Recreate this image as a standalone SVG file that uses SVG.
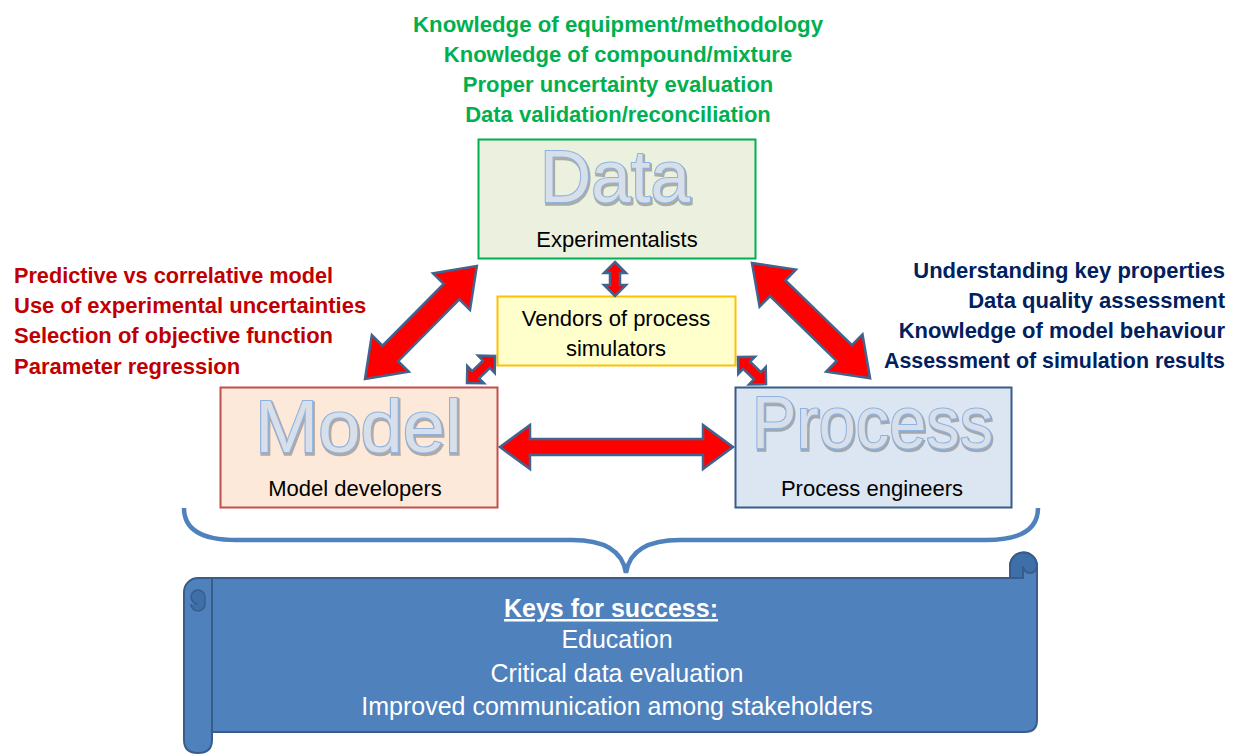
<svg xmlns="http://www.w3.org/2000/svg" width="1235" height="754" viewBox="0 0 1235 754">
<style>
.g{font-family:"Liberation Sans",Arial,sans-serif;font-weight:bold;font-size:22px;fill:#00B050;text-anchor:middle}
.r{font-family:"Liberation Sans",Arial,sans-serif;font-weight:bold;font-size:22px;fill:#C00000}
.n{font-family:"Liberation Sans",Arial,sans-serif;font-weight:bold;font-size:22px;fill:#002060;text-anchor:end}
.lbl{font-family:"Liberation Sans",Arial,sans-serif;font-size:22px;fill:#000;text-anchor:middle}
.big{font-family:"Liberation Sans",Arial,sans-serif;font-size:74px;fill:#D8DFE8;stroke:#8DB3E2;stroke-width:2.2;paint-order:stroke}
.sh{font-family:"Liberation Sans",Arial,sans-serif;font-size:74px;fill:none;stroke:#6b6b6b;stroke-width:3.5;opacity:0.5}
.arr{fill:#FF0000;stroke:#41648F;stroke-width:2.5;stroke-linejoin:miter}
.w{font-family:"Liberation Sans",Arial,sans-serif;font-size:25px;fill:#FFFFFF;text-anchor:middle}
.sc{fill:#4F81BD;stroke:#385D8A;stroke-width:2}
</style>

<g id="top-notes">
<text class="g" x="618" y="32" textLength="410" lengthAdjust="spacingAndGlyphs">Knowledge of equipment/methodology</text>
<text class="g" x="618" y="62">Knowledge of compound/mixture</text>
<text class="g" x="618" y="92">Proper uncertainty evaluation</text>
<text class="g" x="618" y="122">Data validation/reconciliation</text>
</g>

<g id="left-notes">
<text class="r" x="14" y="283" textLength="319" lengthAdjust="spacingAndGlyphs">Predictive vs correlative model</text>
<text class="r" x="14" y="313">Use of experimental uncertainties</text>
<text class="r" x="14" y="343">Selection of objective function</text>
<text class="r" x="14" y="374">Parameter regression</text>
</g>

<g id="right-notes">
<text class="n" x="1225" y="278">Understanding key properties</text>
<text class="n" x="1225" y="308">Data quality assessment</text>
<text class="n" x="1225" y="338">Knowledge of model behaviour</text>
<text class="n" x="1225" y="368" textLength="341" lengthAdjust="spacingAndGlyphs">Assessment of simulation results</text>
</g>

<g id="data">
<rect x="478.5" y="139.5" width="277" height="119" fill="#EBF1DE" stroke="#00B050" stroke-width="2"/>
<text class="sh" x="541" y="204" textLength="150" lengthAdjust="spacingAndGlyphs">Data</text>
<text class="big" x="540" y="202" textLength="150" lengthAdjust="spacingAndGlyphs">Data</text>
<text class="lbl" x="617" y="247">Experimentalists</text>
</g>

<g id="model">
<rect x="220.5" y="387.5" width="277" height="120" fill="#FDE9D9" stroke="#C0504D" stroke-width="2"/>
<text class="sh" x="256" y="454" textLength="207" lengthAdjust="spacingAndGlyphs">Model</text>
<text class="big" x="255" y="452" textLength="207" lengthAdjust="spacingAndGlyphs">Model</text>
<text class="lbl" x="355" y="496">Model developers</text>
</g>

<g id="process">
<rect x="735.5" y="387.5" width="276" height="120" fill="#DCE6F2" stroke="#385D8A" stroke-width="2"/>
<text class="sh" x="753" y="450" textLength="241" lengthAdjust="spacingAndGlyphs">Process</text>
<text class="big" x="752" y="448" textLength="241" lengthAdjust="spacingAndGlyphs">Process</text>
<text class="lbl" x="872" y="496">Process engineers</text>
</g>

<g id="vendors">
<rect x="497.5" y="296.5" width="238" height="69" fill="#FFFFCC" stroke="#FFC000" stroke-width="2"/>
<text class="lbl" x="616" y="326">Vendors of process</text>
<text class="lbl" x="616" y="356">simulators</text>
</g>

<g id="connectors">
<polygon class="arr" transform="translate(365,379) rotate(-45.3)" points="0,0 36,-26 36,-11 123,-11 123,-26 159,0 123,26 123,11 36,11 36,26"/>
<polygon class="arr" transform="translate(752,263) rotate(44.3)" points="0,0 36,-26 36,-11 129,-11 129,-26 165,0 129,26 129,11 36,11 36,26"/>
<polygon class="arr" points="500,447 530,425 530,439 703,439 703,425 733,447 703,469 703,455 530,455 530,469"/>
<polygon class="arr" transform="translate(615,262) rotate(90)" points="0,0 11,-11 11,-5 23,-5 23,-11 34,0 23,11 23,5 11,5 11,11"/>
<polygon class="arr" transform="translate(467,383) rotate(-44)" points="0,0 12,-12 12,-5 27,-5 27,-12 39,0 27,12 27,5 12,5 12,12"/>
<polygon class="arr" transform="translate(738,357) rotate(44)" points="0,0 12,-12 12,-5 27,-5 27,-12 39,0 27,12 27,5 12,5 12,12"/>
</g>

<g id="brace">
<path d="M184,508 Q184,540 236,540 L572,540 Q621,540 626,573 Q631,540 680,540 L986,540 Q1038,540 1038,508" fill="none" stroke="#4F81BD" stroke-width="4.5"/>
</g>

<g id="scroll">
<path class="sc" d="M1010,566 A13.5,13.5 0 0 1 1037,566 L1037,720 Q1037,732 1025,732 L212,732 L212,578 L1010,578 Z"/>
<path d="M1010,578 L1010,566 A13.5,13.5 0 0 1 1037,566 A7,7 0 0 1 1023,566 L1023,578 Z" fill="#3F6FA8" stroke="#385D8A" stroke-width="2"/>
<path class="sc" d="M184,592 A14,14 0 0 1 198,578 L212,578 L212,740 Q212,753 198,753 Q184,753 184,740 Z"/>
<path d="M198,604 A7,7 0 0 1 198,590 A7,7 0 0 1 205,597 L205,604 A7,7 0 0 1 191,604" fill="#3F6FA8" stroke="#385D8A" stroke-width="1.5"/>
<text class="w" x="611" y="617" font-weight="bold" text-decoration="underline">Keys for success:</text>
<text class="w" x="617" y="648">Education</text>
<text class="w" x="617" y="682">Critical data evaluation</text>
<text class="w" x="617" y="715">Improved communication among stakeholders</text>
</g>
</svg>
